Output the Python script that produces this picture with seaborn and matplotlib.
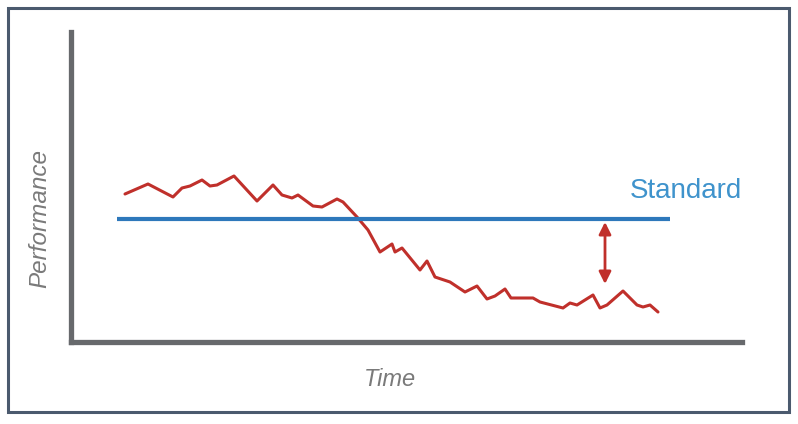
import matplotlib
matplotlib.use("Agg")
import matplotlib.pyplot as plt
import matplotlib.patches as mpatches
import seaborn as sns
import pandas as pd

# Plain white theme, Arial-like font
sns.set_theme(style="white")
plt.rcParams['font.family'] = ['Liberation Sans', 'DejaVu Sans']

# Performance over time
time = [54, 77, 102, 111, 119, 131, 139, 146, 163, 186, 202, 211, 221, 227,
        242, 251, 266, 272, 286, 297, 309, 321, 324, 331, 349, 356, 364, 379,
        394, 406, 416, 424, 434, 440, 462, 469, 492, 499, 506, 522, 529, 536,
        552, 566, 572, 579, 587]
performance = [148, 158, 145, 154, 156, 162, 156, 157, 166, 141, 157, 147, 144,
               147, 136, 135, 143, 140, 125, 112, 90, 98, 90, 94, 72, 81, 65,
               60, 50, 56, 43, 46, 53, 44, 44, 40, 34, 39, 37, 47, 34, 37, 51,
               37, 35, 37, 30]

# Standard level and the gap marker
standard = 123
standard_start, standard_end = 46, 599
gap_time = 534
gap_low = 58

red = "#c0302b"
blue = "#2e78bb"
gray = "#67696c"

df = pd.DataFrame({"Time": time, "Performance": performance})

fig = plt.figure(figsize=(7.98, 4.24), dpi=100)
ax = fig.add_axes([71 / 798, (424 - 342) / 424, 671 / 798, 310 / 424])

sns.lineplot(data=df, x="Time", y="Performance", ax=ax, color=red,
             linewidth=2.2, estimator=None, sort=False)
ax.hlines(standard, standard_start, standard_end, color=blue, linewidth=3)
ax.text(559, 144, "Standard", color="#3f93cc", fontsize=20,
        ha="left", va="baseline")

# double-headed arrow showing the gap
ax.annotate("", xy=(gap_time, standard - 3), xytext=(gap_time, gap_low),
            arrowprops=dict(arrowstyle="<|-|>", color=red, lw=2,
                            mutation_scale=18, shrinkA=0, shrinkB=0))

ax.set_xlim(0, 671)
ax.set_ylim(0, 310)
ax.set_xticks([])
ax.set_yticks([])
for side in ["top", "right"]:
    ax.spines[side].set_visible(False)
for side in ["left", "bottom"]:
    ax.spines[side].set_color(gray)
    ax.spines[side].set_linewidth(3.8)
    ax.spines[side].set_capstyle("projecting")

ax.set_xlabel("Time", fontsize=17, style="italic", color="#7a7a7a")
ax.set_ylabel("Performance", fontsize=17.5, style="italic", color="#7a7a7a")
ax.xaxis.set_label_coords((390 - 71) / 671, (342 - 380) / 310)
ax.xaxis.label.set_verticalalignment("center")
ax.yaxis.set_label_coords((40 - 71) / 671, (342 - 219) / 310)
ax.yaxis.label.set_verticalalignment("center")

# outer frame around the chart
frame = mpatches.Rectangle((7.5 / 798, (424 - 412) / 424), (789 - 7.5) / 798,
                           (412 - 8) / 424, transform=fig.transFigure,
                           fill=False, edgecolor="#4b5a6e", linewidth=2.2)
fig.patches.append(frame)

fig.savefig("out.png", dpi=100)
